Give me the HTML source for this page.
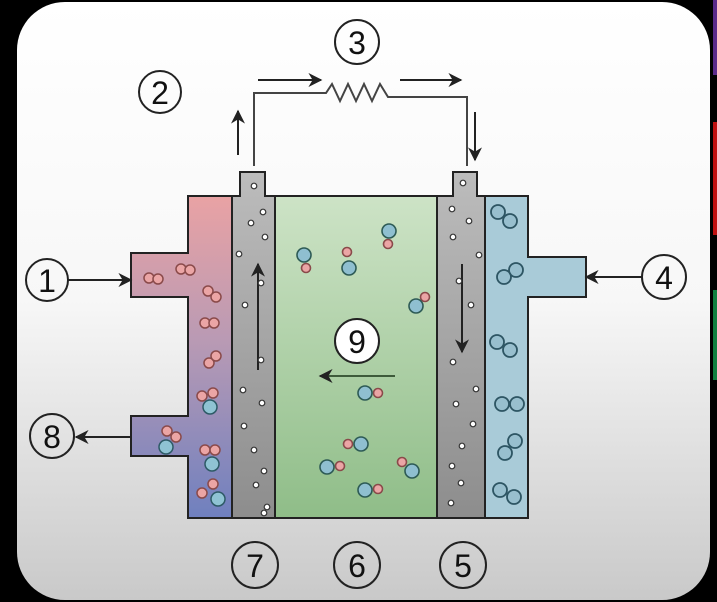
<!DOCTYPE html>
<html><head><meta charset="utf-8"><style>
html,body{margin:0;padding:0;background:#000;}
svg{display:block;}
text{font-family:"Liberation Sans","DejaVu Sans",sans-serif;}
</style></head><body>
<svg width="717" height="602" viewBox="0 0 717 602" xmlns="http://www.w3.org/2000/svg">
<defs>
<linearGradient id="bg" x1="0" y1="0" x2="0" y2="1">
<stop offset="0" stop-color="#ffffff"/><stop offset="0.5" stop-color="#f7f7f7"/><stop offset="1" stop-color="#c9c9c9"/></linearGradient>
<linearGradient id="fuel" x1="0" y1="0" x2="0" y2="1">
<stop offset="0" stop-color="#e9a2a4"/><stop offset="0.45" stop-color="#b99ab4"/><stop offset="1" stop-color="#6f80bf"/></linearGradient>
<linearGradient id="gray" x1="0" y1="0" x2="0" y2="1">
<stop offset="0" stop-color="#bcbcbc"/><stop offset="1" stop-color="#8d8d8d"/></linearGradient>
<linearGradient id="green" x1="0" y1="0" x2="0" y2="1">
<stop offset="0" stop-color="#cde3c6"/><stop offset="1" stop-color="#8fbd88"/></linearGradient>
<marker id="ah" viewBox="0 0 10 10" refX="9" refY="5" markerWidth="7" markerHeight="7" orient="auto"><path d="M0,0 L10,5 L0,10 L3,5z" fill="#222"/></marker>
</defs>
<rect x="713" y="0" width="4" height="75" fill="#5a2a8a"/>
<rect x="713" y="122" width="4" height="113" fill="#c01010"/>
<rect x="713" y="290" width="4" height="90" fill="#108040"/>
<rect x="17" y="2" width="693" height="598" rx="48" fill="url(#bg)"/>

<path d="M188,196 H232 V518 H188 V456 H131 V416 H188 V297 H131 V253 H188 Z" fill="url(#fuel)" stroke="#222" stroke-width="2"/>
<path d="M485,196 H528 V257 H586 V297 H528 V518 H485 Z" fill="#a9cbd8" stroke="#222" stroke-width="2"/>
<path d="M232,196 H240 V172 H265 V196 H275 V518 H232 Z" fill="url(#gray)" stroke="#222" stroke-width="2"/>
<path d="M437,196 H453 V172 H477 V196 H485 V518 H437 Z" fill="url(#gray)" stroke="#222" stroke-width="2"/>
<rect x="275" y="196" width="162" height="322" fill="url(#green)" stroke="#222" stroke-width="2"/>

<polyline points="254,166 254,93 326,93 332,84 340,101 348,84 356,101 364,84 372,101 380,84 388,97 467,97 467,166" fill="none" stroke="#444" stroke-width="2"/>
<g stroke="#222" stroke-width="2" fill="none" marker-end="url(#ah)">
<line x1="258" y1="80" x2="321" y2="80"/>
<line x1="400" y1="80" x2="461" y2="80"/>
<line x1="238" y1="155" x2="238" y2="111"/>
<line x1="475" y1="112" x2="475" y2="160"/>
<line x1="67" y1="280" x2="131" y2="280"/>
<line x1="643" y1="277" x2="586" y2="277"/>
<line x1="131" y1="437" x2="76" y2="437"/>
<line x1="258" y1="370" x2="258" y2="264"/>
<line x1="462" y1="264" x2="462" y2="352"/>
<line x1="395" y1="376" x2="320" y2="376" stroke="#3d5a3a"/>
</g>

<g fill="#fff" stroke="#333" stroke-width="1.2">
<circle cx="254" cy="186" r="2.8"/><circle cx="263" cy="212" r="2.8"/><circle cx="251" cy="223" r="2.8"/><circle cx="265" cy="237" r="2.8"/><circle cx="239" cy="254" r="2.8"/><circle cx="261" cy="283" r="2.8"/><circle cx="245" cy="305" r="2.8"/><circle cx="261" cy="360" r="2.8"/><circle cx="243" cy="390" r="2.8"/><circle cx="262" cy="403" r="2.8"/><circle cx="244" cy="426" r="2.8"/><circle cx="254" cy="450" r="2.8"/><circle cx="264" cy="471" r="2.8"/><circle cx="256" cy="485" r="2.8"/><circle cx="267" cy="507" r="2.8"/><circle cx="264" cy="513" r="2.8"/>
<circle cx="463" cy="183" r="2.8"/><circle cx="452" cy="209" r="2.8"/><circle cx="469" cy="221" r="2.8"/><circle cx="453" cy="237" r="2.8"/><circle cx="479" cy="255" r="2.8"/><circle cx="459" cy="281" r="2.8"/><circle cx="471" cy="305" r="2.8"/><circle cx="453" cy="362" r="2.8"/><circle cx="476" cy="389" r="2.8"/><circle cx="456" cy="404" r="2.8"/><circle cx="473" cy="424" r="2.8"/><circle cx="462" cy="446" r="2.8"/><circle cx="452" cy="466" r="2.8"/><circle cx="461" cy="483" r="2.8"/><circle cx="451" cy="503" r="2.8"/>
</g>

<g fill="#eba5a5" stroke="#8a4a4a" stroke-width="1.5">
<circle cx="149" cy="278" r="5"/><circle cx="158" cy="279" r="5"/>
<circle cx="181" cy="269" r="5"/><circle cx="190" cy="270" r="5"/>
<circle cx="208" cy="291" r="5"/><circle cx="216" cy="297" r="5"/>
<circle cx="205" cy="323" r="5"/><circle cx="214" cy="323" r="5"/>
<circle cx="209" cy="363" r="5"/><circle cx="216" cy="356" r="5"/>
<circle cx="202" cy="396" r="5"/><circle cx="213" cy="393" r="5"/>
<circle cx="167" cy="431" r="5"/><circle cx="176" cy="437" r="5"/>
<circle cx="205" cy="450" r="5"/><circle cx="215" cy="450" r="5"/>
<circle cx="202" cy="493" r="5"/><circle cx="213" cy="484" r="5"/>
</g>
<g fill="#8fc3d3" stroke="#2d5a66" stroke-width="1.5">
<circle cx="210" cy="407" r="7"/><circle cx="166" cy="447" r="7"/><circle cx="212" cy="464" r="7"/><circle cx="218" cy="499" r="7"/>
</g>
<g fill="rgba(120,170,190,0.35)" stroke="#2d5563" stroke-width="1.8">
<circle cx="498" cy="212" r="7"/><circle cx="510" cy="221" r="7"/>
<circle cx="504" cy="277" r="7"/><circle cx="516" cy="270" r="7"/>
<circle cx="497" cy="342" r="7"/><circle cx="510" cy="350" r="7"/>
<circle cx="502" cy="404" r="7"/><circle cx="517" cy="404" r="7"/>
<circle cx="505" cy="453" r="7"/><circle cx="515" cy="441" r="7"/>
<circle cx="500" cy="490" r="7"/><circle cx="514" cy="497" r="7"/>
</g>
<g stroke-width="1.6">
<g fill="#eba5a5" stroke="#8a4a4a">
<circle cx="306" cy="268" r="4.5"/><circle cx="347" cy="252" r="4.5"/><circle cx="388" cy="244" r="4.5"/><circle cx="425" cy="297" r="4.5"/><circle cx="378" cy="393" r="4.5"/><circle cx="348" cy="444" r="4.5"/><circle cx="340" cy="466" r="4.5"/><circle cx="402" cy="462" r="4.5"/><circle cx="378" cy="489" r="4.5"/>
</g>
<g fill="#8fbfd0" stroke="#2d5a55">
<circle cx="304" cy="255" r="7"/><circle cx="349" cy="268" r="7"/><circle cx="389" cy="231" r="7"/><circle cx="416" cy="306" r="7"/><circle cx="365" cy="393" r="7"/><circle cx="361" cy="444" r="7"/><circle cx="327" cy="467" r="7"/><circle cx="412" cy="471" r="7"/><circle cx="365" cy="490" r="7"/>
</g>
</g>

<g fill="none" stroke="#222" stroke-width="2">
<circle cx="47" cy="280" r="21"/><circle cx="160" cy="92" r="21"/><circle cx="357" cy="42" r="22"/><circle cx="664" cy="277" r="22"/>
<circle cx="463" cy="565" r="23"/><circle cx="357" cy="565" r="23"/><circle cx="255" cy="565" r="23"/><circle cx="52" cy="436" r="22"/>
<circle cx="357" cy="341" r="22" fill="#fff"/>
</g>
<g font-size="32" fill="#111" text-anchor="middle">
<text x="47" y="292">1</text><text x="160" y="104">2</text><text x="357" y="54">3</text><text x="664" y="289">4</text>
<text x="463" y="577">5</text><text x="357" y="577">6</text><text x="255" y="577">7</text><text x="52" y="448">8</text><text x="357" y="353">9</text>
</g>
</svg>
</body></html>
